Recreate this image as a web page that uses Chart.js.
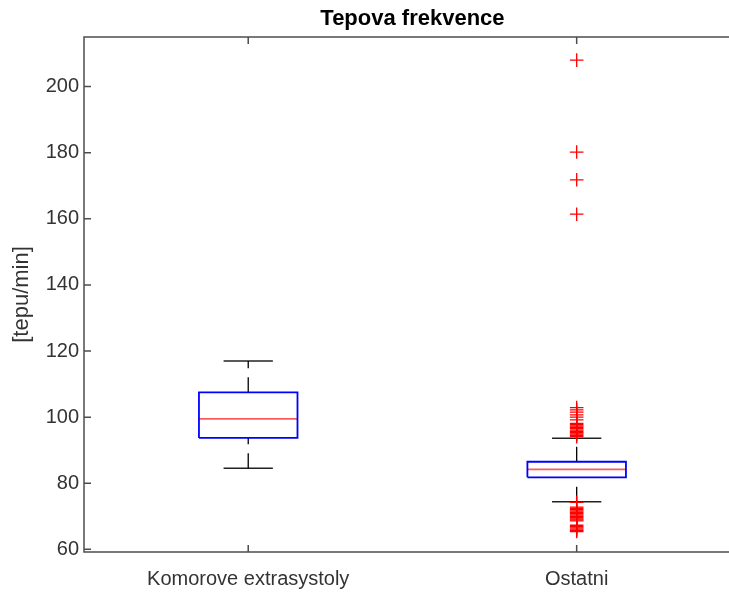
<!DOCTYPE html>
<html>
<head>
<meta charset="utf-8">
<script src="https://cdn.jsdelivr.net/npm/chart.js@4/dist/chart.umd.min.js"></script>
<style>
  html, body { margin: 0; padding: 0; background: #fff; overflow: hidden; }
  canvas { display: block; }
</style>
</head>
<body>
<canvas id="tepova_frekvence" width="749" height="592"></canvas>
<script>
// boxplot tepove frekvence, dve skupiny
const categories = ["Komorove extrasystoly", "Ostatni"];
const lowerWhisker = [84.5, 74.4];
const q1 = [93.7, 81.8];
const median = [99.5, 84.2];
const q3 = [107.5, 86.5];
const upperWhisker = [117.0, 93.6];

const outliersKomorove = [];
const outliersOstatni = [
  208.0, 180.2, 171.8, 161.4,
  102.9, 102.2, 101.5, 100.7, 100.0, 99.2,
  98.1, 97.7, 97.3, 96.9, 96.5, 96.1, 95.7, 95.3, 94.9, 94.5, 94.1,
  74.2,
  72.8, 72.4, 72.0, 71.6, 71.2, 70.8, 70.4, 70.0, 69.6, 69.2, 68.9, 68.6,
  67.3, 66.9, 66.5, 66.1, 65.7, 65.4,
];
const outliers = [outliersKomorove, outliersOstatni];

const yTicks = [60, 80, 100, 120, 140, 160, 180, 200];
const yMin = 59.2;
const yMax = 215;

const boxHalf = 0.15;
const capHalf = 0.075;

Chart.defaults.font.family = '"Liberation Sans", Arial, sans-serif';

function lineSet(points, color, width, dash) {
  return {
    data: points,
    showLine: true,
    borderColor: color,
    borderWidth: width,
    borderDash: dash || [],
    pointRadius: 0,
    fill: false,
    tension: 0,
    order: 1,
  };
}

const datasets = [];
categories.forEach(function (name, i) {
  const c = i + 1;
  // body
  datasets.push(lineSet([
    { x: c - boxHalf, y: q1[i] },
    { x: c + boxHalf, y: q1[i] },
    { x: c + boxHalf, y: q3[i] },
    { x: c - boxHalf, y: q3[i] },
    { x: c - boxHalf, y: q1[i] },
  ], "#0000ff", 1.8));
  // median
  datasets.push(lineSet([
    { x: c - boxHalf, y: median[i] },
    { x: c + boxHalf, y: median[i] },
  ], "#ff5a5a", 1.8));
  // whiskers, dashed, drawn bottom to top
  datasets.push(lineSet([{ x: c, y: q3[i] }, { x: c, y: upperWhisker[i] }], "#000", 1.3, [15, 9]));
  datasets.push(lineSet([{ x: c, y: lowerWhisker[i] }, { x: c, y: q1[i] }], "#000", 1.3, [15, 9]));
  // caps
  datasets.push(lineSet([
    { x: c - capHalf, y: upperWhisker[i] },
    { x: c + capHalf, y: upperWhisker[i] },
  ], "#222", 1.5));
  datasets.push(lineSet([
    { x: c - capHalf, y: lowerWhisker[i] },
    { x: c + capHalf, y: lowerWhisker[i] },
  ], "#222", 1.5));
  // outliers
  datasets.push({
    data: outliers[i].map(function (v) { return { x: c, y: v }; }),
    showLine: false,
    pointStyle: "cross",
    pointRadius: 6.8,
    pointBorderColor: "#ff0000",
    pointBorderWidth: 1.3,
    order: 0,
  });
});

// ramecek grafu a ticky dovnitr
const ramecek = {
  id: "ramecek",
  afterDatasetsDraw(chart) {
    const ctx = chart.ctx;
    const a = chart.chartArea;
    const sx = chart.scales.x;
    const sy = chart.scales.y;
    ctx.save();
    ctx.strokeStyle = "#4d4d4d";
    ctx.lineWidth = 1.5;
    ctx.strokeRect(a.left, a.top, a.right - a.left, a.bottom - a.top);
    ctx.beginPath();
    sy.ticks.forEach(function (t) {
      const py = sy.getPixelForValue(t.value);
      ctx.moveTo(a.left, py);
      ctx.lineTo(a.left + 7, py);
      ctx.moveTo(a.right, py);
      ctx.lineTo(a.right - 7, py);
    });
    sx.ticks.forEach(function (t) {
      const px = sx.getPixelForValue(t.value);
      ctx.moveTo(px, a.bottom);
      ctx.lineTo(px, a.bottom - 7);
      ctx.moveTo(px, a.top);
      ctx.lineTo(px, a.top + 7);
    });
    ctx.stroke();
    ctx.restore();
  },
};

const ctx = document.getElementById("tepova_frekvence").getContext("2d");
const chart = new Chart(ctx, {
  type: "scatter",
  data: { datasets: datasets },
  plugins: [ramecek],
  options: {
    responsive: false,
    animation: false,
    layout: { padding: 0 },
    plugins: {
      legend: { display: false },
      tooltip: { enabled: false },
      title: {
        display: true,
        text: "Tepova frekvence",
        fullSize: false,
        color: "#000",
        font: { size: 22, weight: "bold" },
        padding: { top: 6, bottom: 4.6 },
      },
    },
    scales: {
      x: {
        type: "linear",
        min: 0.5,
        max: 2.5,
        afterBuildTicks: function (s) {
          s.ticks = [1, 2].map(function (v) { return { value: v }; });
        },
        afterFit: function (s) { s.height = 40; },
        grid: { display: false, drawTicks: false },
        border: { display: false },
        ticks: {
          autoSkip: false,
          maxRotation: 0,
          padding: 15,
          color: "#333",
          font: { size: 20 },
          callback: function (v) { return categories[Math.round(v) - 1]; },
        },
      },
      y: {
        type: "linear",
        min: yMin,
        max: yMax,
        afterBuildTicks: function (s) {
          s.ticks = yTicks.map(function (v) { return { value: v }; });
        },
        afterFit: function (s) { s.width = 84; },
        grid: { display: false, drawTicks: false },
        border: { display: false },
        ticks: {
          padding: 5,
          color: "#333",
          font: { size: 20 },
        },
        title: {
          display: true,
          text: "[tepu/min]",
          color: "#333",
          font: { size: 22 },
          padding: { top: 9, bottom: 0 },
        },
      },
    },
  },
});
</script>
</body>
</html>
